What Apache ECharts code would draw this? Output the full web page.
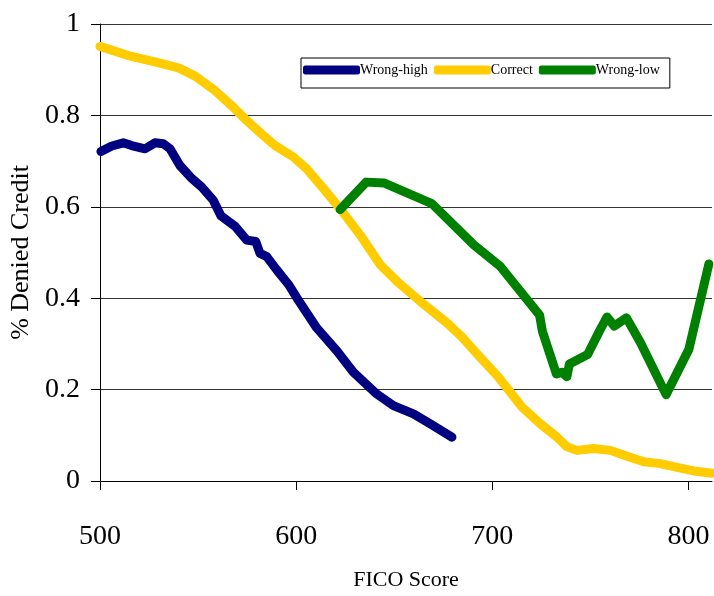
<!DOCTYPE html>
<html>
<head>
<meta charset="utf-8">
<script src="https://cdn.jsdelivr.net/npm/echarts@6/dist/echarts.min.js"></script>
<style>
html,body{margin:0;padding:0;background:#fff;}
#chart{width:714px;height:596px;}
</style>
</head>
<body>
<div id="chart"></div>
<script>
var seriesNames = ['Wrong-high', 'Correct', 'Wrong-low'];
var xTicks = [500, 600, 700, 800];

var wrongHighX = [500.5, 506, 511.9, 516.1, 523, 528, 532.3, 535.7, 540.8, 546.8, 551.9, 557.8, 561.7, 568.9, 574.8, 579.4, 581.6, 585, 590.1, 596.1, 600.3, 610.5, 620.7, 629.2, 641.2, 649.6, 659.8, 668.4, 679.4];
var wrongHighY = [0.721, 0.733, 0.740, 0.734, 0.727, 0.740, 0.738, 0.727, 0.690, 0.662, 0.643, 0.614, 0.580, 0.557, 0.527, 0.524, 0.498, 0.491, 0.462, 0.430, 0.401, 0.335, 0.285, 0.238, 0.190, 0.165, 0.147, 0.125, 0.096];

var correctX = [500, 514.4, 528, 540, 548.5, 558.7, 567.2, 574, 582.5, 589.3, 598.6, 605.4, 613.9, 622.4, 632.7, 642.9, 651.4, 663.3, 676.9, 684.5, 693.9, 703.2, 715.1, 724.5, 733, 738, 743.2, 751.7, 760.2, 768.7, 777.2, 785.7, 794.2, 802.7, 812];
var correctY = [0.951, 0.931, 0.917, 0.904, 0.886, 0.854, 0.821, 0.792, 0.759, 0.734, 0.709, 0.683, 0.640, 0.596, 0.538, 0.473, 0.437, 0.393, 0.346, 0.315, 0.270, 0.227, 0.162, 0.125, 0.096, 0.075, 0.067, 0.071, 0.067, 0.054, 0.042, 0.038, 0.030, 0.022, 0.017];

var wrongLowX = [622.4, 635.7, 645, 669.2, 690.5, 704, 724.1, 725.5, 732.7, 735.5, 738, 739.3, 748.6, 754.6, 758.5, 762.2, 768.4, 775.5, 788.6, 800.2, 810.4];
var wrongLowY = [0.594, 0.654, 0.652, 0.607, 0.517, 0.470, 0.363, 0.328, 0.234, 0.238, 0.228, 0.256, 0.277, 0.328, 0.359, 0.339, 0.357, 0.303, 0.189, 0.288, 0.475];

function zip(xs, ys) { return xs.map(function (x, i) { return [x, ys[i]]; }); }

var colors = ['#000080', '#FFCC00', '#008000'];
var data = [zip(wrongHighX, wrongHighY), zip(correctX, correctY), zip(wrongLowX, wrongLowY)];

var font = 'Liberation Serif';
var chart = echarts.init(document.getElementById('chart'), null, {renderer: 'canvas'});
chart.setOption({
  animation: false,
  backgroundColor: '#fff',
  grid: {left: 100, top: 24, right: 2, bottom: 112, containLabel: false},
  legend: {
    left: 301, top: 58,
    width: 400,
    padding: [5, 10, 11, 2],
    borderColor: '#000', borderWidth: 1,
    itemWidth: 57, itemHeight: 9, itemGap: 6,
    icon: 'roundRect',
    textStyle: {fontFamily: font, fontSize: 14, color: '#000', padding: [10, 0, 0, -5]},
    data: seriesNames
  },
  xAxis: {
    type: 'value', min: 500, max: 812, interval: 100,
    axisLine: {show: true, lineStyle: {color: '#000', width: 1}},
    axisTick: {show: true, length: 9, inside: false, lineStyle: {color: '#000'}, customValues: xTicks},
    axisLabel: {show: true, fontFamily: font, fontSize: 28, color: '#000', margin: 42, customValues: xTicks},
    splitLine: {show: false},
    name: 'FICO Score', nameLocation: 'middle', nameGap: 88,
    nameTextStyle: {fontFamily: font, fontSize: 22, color: '#000'}
  },
  yAxis: {
    type: 'value', min: 0, max: 1, interval: 0.2,
    axisLine: {show: true, lineStyle: {color: '#000', width: 1}},
    axisTick: {show: true, length: 9, lineStyle: {color: '#000'}},
    axisLabel: {fontFamily: font, fontSize: 28, color: '#000', margin: 20},
    splitLine: {show: true, lineStyle: {color: '#333', width: 1}},
    name: '% Denied Credit', nameLocation: 'middle', nameGap: 64, nameRotate: 90,
    nameTextStyle: {fontFamily: font, fontSize: 26, color: '#000'}
  },
  series: seriesNames.map(function (n, i) {
    return {
      name: n, type: 'line', data: data[i],
      showSymbol: false, symbol: 'none',
      color: colors[i],
      lineStyle: {width: 9, color: colors[i], cap: 'round', join: 'round'},
      itemStyle: {color: colors[i]}
    };
  })
});
</script>
</body>
</html>
